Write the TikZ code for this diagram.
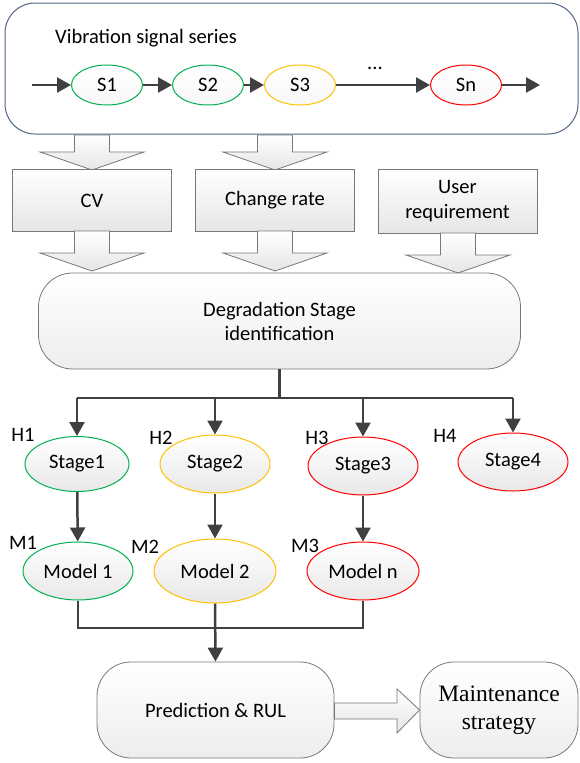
\documentclass[tikz,border=0pt]{standalone}
\usepackage{fontspec}
\setmainfont{Carlito}
\newfontfamily\tnr{Liberation Serif}
\usetikzlibrary{arrows.meta,shapes.geometric}
\definecolor{dg}{RGB}{64,64,64}
\definecolor{cgreen}{RGB}{0,176,80}
\definecolor{cyellow}{RGB}{255,192,0}
\definecolor{cred}{RGB}{255,0,0}
\definecolor{bblue}{RGB}{80,100,135}
\definecolor{bgray}{RGB}{120,120,120}
\begin{document}
\begin{tikzpicture}[x=1pt,y=-1pt,font=\fontsize{20.5}{24}\selectfont,
  line/.style={draw=dg,line width=2.5pt},
  conn/.style={line,-{Triangle[length=14pt,width=15pt]}},
  sig/.style={ellipse,draw,line width=1pt,minimum width=71pt,minimum height=40pt,inner sep=0pt,top color=white,bottom color=gray!6},
  stg/.style={ellipse,draw,line width=1pt,inner sep=0pt,top color=white,bottom color=gray!18},
  box/.style={rectangle,draw=bgray,line width=0.8pt,minimum width=159pt,minimum height=62pt,align=center,top color=white,bottom color=gray!20},
  rbox/.style={rectangle,draw=bgray,line width=0.8pt,rounded corners=34pt,align=center,top color=white,bottom color=gray!14},
  blk/.style={draw=bgray,line width=0.8pt,top color=white,bottom color=gray!20},
  lab/.style={inner sep=0pt}]
\useasboundingbox (0,0) rectangle (579,763);
% top container
\node[draw=bblue,line width=1pt,rounded corners=30pt,minimum width=573pt,minimum height=131pt,fill=white] (top) at (291.5,68.5) {};
\node[lab,anchor=west] (title) at (55,38) {Vibration signal series};
\node[sig,draw=cgreen] (s1) at (107,85) {S1};
\node[sig,draw=cgreen] (s2) at (208,85) {S2};
\node[sig,draw=cyellow] (s3) at (300,85) {S3};
\node[sig,draw=cred] (sn) at (466,85) {Sn};
\node[lab] (dots) at (375,68) {...};
\coordinate (sin) at (32,85);
\coordinate (sout) at (540,85);
\draw[conn] (sin) -- (s1);
\draw[conn] (s1) -- (s2);
\draw[conn] (s2) -- (s3);
\draw[conn] (s3) -- (sn);
\draw[conn] (sn) -- (sout);
% block arrows top
\draw[blk] (74.5,135) -- (109.5,135) -- (109.5,152) -- (144,152) -- (92,170) -- (40,152) -- (74.5,152) -- cycle;
\draw[blk] (257.5,135) -- (292.5,135) -- (292.5,152) -- (327,152) -- (275,170) -- (223,152) -- (257.5,152) -- cycle;
% boxes
\node[box] (cv) at (92,200.5) {CV};
\node[box] (cr) at (275,200.5) {Change rate};
\node[box,minimum height=64pt] (ur) at (457.5,201.5) {User\\[1pt]requirement};
% block arrows bottom
\draw[blk] (74.5,231) -- (109.5,231) -- (109.5,253) -- (144,253) -- (92,271) -- (40,253) -- (74.5,253) -- cycle;
\draw[blk] (257.5,231) -- (292.5,231) -- (292.5,253) -- (327,253) -- (275,271) -- (223,253) -- (257.5,253) -- cycle;
\draw[blk] (440.5,233) -- (475.5,233) -- (475.5,255) -- (510,255) -- (458,273) -- (406,255) -- (440.5,255) -- cycle;
% degradation
\node[rbox,minimum width=482pt,minimum height=96pt] (deg) at (279.5,321) {Degradation Stage\\identification};
% stages
\node[stg,draw=cgreen,minimum width=104pt,minimum height=55pt] (st1) at (77,464) {Stage1};
\node[stg,draw=cyellow,minimum width=110pt,minimum height=58pt] (st2) at (215,464) {Stage2};
\node[stg,draw=cred,minimum width=110pt,minimum height=58pt] (st3) at (363,466) {Stage3};
\node[stg,draw=cred,minimum width=110pt,minimum height=58pt] (st4) at (513,462) {Stage4};
\coordinate (j) at (279.5,398);
\draw[line] (deg.south) -- (j);
\draw[line] (st1.north |- j) -- (st4.north |- j);
\draw[conn] (st1.north |- j) -- (st1.north);
\draw[conn] (st2.north |- j) -- (st2.north);
\draw[conn] (st3.north |- j) -- (st3.north);
\draw[conn] (st4.north |- j) -- (st4.north);
\node[lab] (h1) at (23,435) {H1};
\node[lab] (h2) at (161,438) {H2};
\node[lab] (h3) at (317,438) {H3};
\node[lab] (h4) at (445,436) {H4};
% models
\node[stg,draw=cgreen,minimum width=110pt,minimum height=58pt] (m1) at (78,571) {Model 1};
\node[stg,draw=cyellow,minimum width=122pt,minimum height=64pt] (m2) at (215,571) {Model 2};
\node[stg,draw=cred,minimum width=112pt,minimum height=58pt] (m3) at (363,571) {Model n};
\draw[conn] (st1) -- (m1);
\draw[conn] (st2) -- (m2);
\draw[conn] (st3) -- (m3);
\node[lab] (lm1) at (23,543) {M1};
\node[lab] (lm2) at (145,547) {M2};
\node[lab] (lm3) at (305,546) {M3};
\coordinate (bus) at (215,628);
\draw[line] (m1.south) -- (m1.south |- bus) -- (m3.south |- bus) -- (m3.south);
% bottom
\node[rbox,minimum width=237pt,minimum height=96pt] (pred) at (215.5,710) {Prediction \& RUL};
\node[rbox,minimum width=158pt,minimum height=96pt,font=\tnr\fontsize{23.5}{28}\selectfont] (mnt) at (499,710) {Maintenance\\strategy};
\draw[conn] (m2.south) -- (pred.north);
\draw[blk] (pred.east |- 0,703) -- (397,703) -- (397,689) -- (mnt.west) -- (397,733) -- (397,719) -- (pred.east |- 0,719) -- cycle;
\end{tikzpicture}
\end{document}
